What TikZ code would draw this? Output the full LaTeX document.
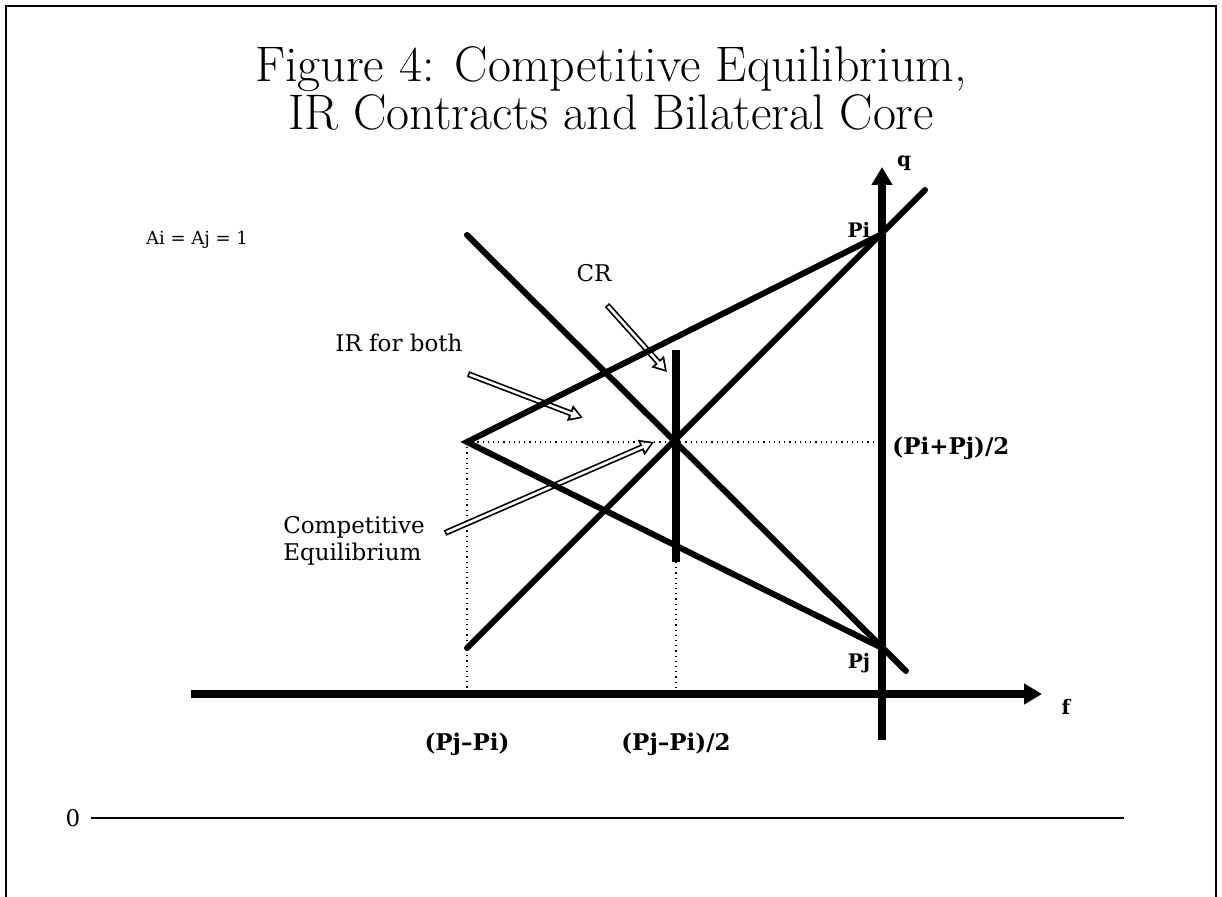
\documentclass[tikz,border=0pt]{standalone}
\usepackage{fontspec}
\newfontfamily\labelfont{DejaVu Serif}
\usetikzlibrary{arrows.meta, positioning}
\tikzset{thickline/.style={line width=3pt, line cap=round}}
\tikzset{axisline/.style={line width=4pt, -{Triangle[width=10pt,length=9pt]}}}
\tikzset{guide/.style={dotted, line width=0.6pt}}
\tikzset{hollow/.style={line width=3pt, -{Triangle[width=8pt,length=7pt]},
  postaction={draw, white, line width=1.3pt, shorten <=0.8pt, shorten >=1.6pt, -{Triangle[width=4.8pt,length=4.4pt]}}}}
\tikzset{lbl/.style={font=\labelfont\fontsize{11.5}{13.5}\selectfont, inner sep=1pt}}
\tikzset{smalllbl/.style={font=\labelfont\small, inner sep=1pt}}
\tikzset{axlbl/.style={font=\labelfont\fontsize{11.5}{13.5}\selectfont\bfseries, inner sep=1pt}}
\tikzset{ptlbl/.style={font=\labelfont\fontsize{10}{12}\selectfont\bfseries, inner sep=1pt}}

\begin{document}
\begin{tikzpicture}[x=0.5pt, y=-0.5pt]
\useasboundingbox (0,0) rectangle (1222,897);
% frame
\draw[line width=1pt] (6,897) -- (6,6) -- (1216,6) -- (1216,897);
% title
\node[font=\fontsize{25}{24}\selectfont, align=center] (title) at (611,88)
  {Figure 4: Competitive Equilibrium,\\IR Contracts and Bilateral Core};
% key points
\coordinate (Pi) at (880,235);
\coordinate (Pj) at (880,647);
\coordinate (V) at (467,442);
\coordinate (E) at (676,442);
\coordinate (M) at (882,442);
\coordinate (ascA) at (467,648);
\coordinate (ascB) at (925,190);
\coordinate (descA) at (467,235);
\coordinate (descB) at (906,671);
\coordinate (crtop) at (676,350);
\coordinate (crbot) at (676,562);
\coordinate (Vfoot) at (467,694);
\coordinate (Efoot) at (676,694);
% axes
\coordinate (fstart) at (191,694);
\coordinate (ftip) at (1042,694);
\coordinate (qbot) at (882,740);
\coordinate (qtip) at (882,167);
% texts
\node[smalllbl] (alab) at (197,240) {Ai = Aj = 1};
\node[lbl] (irlab) at (399,343) {IR for both};
\node[lbl] (crlab) at (594,273) {CR};
\node[lbl, align=left] (celab) at (354,541) {Competitive\\Equilibrium};
\node[ptlbl] (qlab) at (904,163) {q};
\node[ptlbl] (flab) at (1066,707) {f};
\node[ptlbl] (Pilab) at (859,230) {Pi};
\node[ptlbl] (Pjlab) at (859,663) {Pj};
\node[axlbl, right] (midlab) at (890,448) {(Pi+Pj)/2};
\node[axlbl] (dlab) at (467,744) {(Pj–Pi)};
\node[axlbl] (hlab) at (676,744) {(Pj–Pi)/2};
\node[lbl] (zero) at (73,818) {0};
\coordinate (zeroend) at (1124,818);
% hollow pointers
\coordinate (crtail) at (607,305);
\coordinate (crtip) at (667,372);
\coordinate (irtail) at (468,374);
\coordinate (irtip) at (583,418);
\coordinate (cetail) at (445,533);
\coordinate (cetip) at (654,442);
\draw[hollow] (crtail) -- (crtip);
\draw[hollow] (irtail) -- (irtip);
\draw[hollow] (cetail) -- (cetip);
% dotted guides
\draw[guide] (V) -- (M);
\draw[guide] (V) -- (Vfoot);
\draw[guide] (crbot) -- (Efoot);
% curves
\draw[thickline] (ascA) -- (ascB);
\draw[thickline] (descA) -- (descB);
\draw[thickline] (Pi) -- (V) -- (Pj);
\draw[line width=4pt] (crtop) -- (crbot);
\draw[axisline] (fstart) -- (ftip);
\draw[axisline] (qbot) -- (qtip);
\draw[line width=1pt] (zero.east) ++(8,0) -- (zeroend);
\end{tikzpicture}
\end{document}
